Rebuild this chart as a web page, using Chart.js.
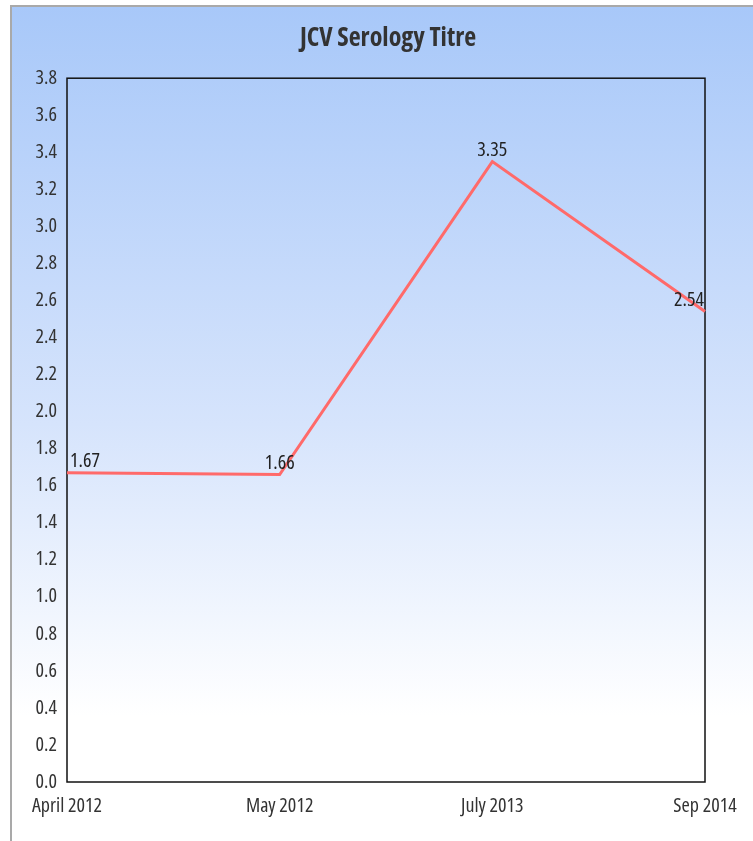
<!doctype html>
<html lang="en">
<head>
    <meta charset="UTF-8" />
    <title>JCV Serology Titre</title>
    <script src="https://cdn.jsdelivr.net/npm/chart.js"></script>
    <style>
        body { margin: 0; background: #fff; }
        #panel {
            position: absolute; left: 10px; top: 5px; right: 0; bottom: 0;
            border-left: 2px solid #a9a9a9;
            border-top: 2px solid #a9a9a9;
            background: linear-gradient(to bottom, #a8c8f9 0%, #d6e4fc 50%, #ffffff 85%);
        }
        #myChart { position: absolute; left: 0; top: 0; }
    </style>
</head>
<body>
    <div id="panel"></div>
    <canvas id="myChart" width="753" height="841"></canvas>

    <script>
        const labels = ["April 2012", "May 2012", "July 2013", "Sep 2014"];
        const titre = [1.67, 1.66, 3.35, 2.54];
        const yMin = 0;
        const yMax = 3.8;
        const yStep = 0.2;

        // the reference text is a narrow face: Open Sans with the condensed width
        const FAMILY = '"Open Sans"';
        const tickFont = { family: FAMILY, size: 20, weight: 'normal condensed' };

        /* black frame round the plot */
        const frame = {
            id: 'frame',
            beforeDatasetsDraw(chart) {
                const { ctx, chartArea: a } = chart;
                ctx.save();
                ctx.strokeStyle = '#111';
                ctx.lineWidth = 1.5;
                ctx.strokeRect(a.left, a.top, a.right - a.left, a.bottom - a.top);
                ctx.restore();
            }
        };

        /* value labels above the points, kept inside the plot */
        const valueLabels = {
            id: 'valueLabels',
            afterDatasetsDraw(chart) {
                const { ctx, chartArea: a } = chart;
                const meta = chart.getDatasetMeta(0);
                ctx.save();
                ctx.font = 'normal condensed 20px ' + FAMILY;
                ctx.fillStyle = '#222';
                ctx.textBaseline = 'bottom';
                ctx.textAlign = 'left';
                meta.data.forEach((pt, i) => {
                    const txt = titre[i].toFixed(2);
                    const w = ctx.measureText(txt).width;
                    let x = pt.x - w / 2;
                    x = Math.max(a.left + 3, Math.min(x, a.right - 1 - w));
                    ctx.fillText(txt, x, pt.y - 1);
                });
                ctx.restore();
            }
        };

        new Chart(document.getElementById('myChart'), {
            type: 'line',
            data: {
                labels: labels,
                datasets: [{
                    data: titre,
                    borderColor: '#ff6a6a',
                    borderWidth: 3,
                    pointRadius: 0,
                    tension: 0,
                    fill: false
                }]
            },
            options: {
                responsive: false,
                animation: false,
                layout: { padding: { left: 23, right: 0, top: 14, bottom: 0 } },
                plugins: {
                    legend: { display: false },
                    tooltip: { enabled: false },
                    title: {
                        display: true,
                        text: 'JCV Serology Titre',
                        color: '#333',
                        font: { family: FAMILY, size: 26, weight: 'bold condensed' },
                        padding: { top: 9, bottom: 24 }
                    }
                },
                scales: {
                    x: {
                        offset: false,
                        grid: { display: false, drawTicks: false },
                        border: { display: false },
                        ticks: {
                            color: '#333',
                            font: tickFont,
                            padding: 12,
                            maxRotation: 0,
                            autoSkip: false
                        },
                        afterFit(scale) { scale.height = 59; }
                    },
                    y: {
                        min: yMin,
                        max: yMax,
                        grid: { display: false, drawTicks: false },
                        border: { display: false },
                        ticks: {
                            stepSize: yStep,
                            color: '#333',
                            font: tickFont,
                            padding: 10,
                            callback: v => v.toFixed(1)
                        },
                        afterFit(scale) { scale.width = 44; }
                    },
                    // empty right-hand margin so the title sits where the reference has it
                    yRight: {
                        axis: 'y',
                        position: 'right',
                        grid: { display: false, drawTicks: false },
                        border: { display: false },
                        ticks: { display: false },
                        afterFit(scale) { scale.width = 48; }
                    }
                }
            },
            plugins: [frame, valueLabels]
        });
    </script>
</body>
</html>
